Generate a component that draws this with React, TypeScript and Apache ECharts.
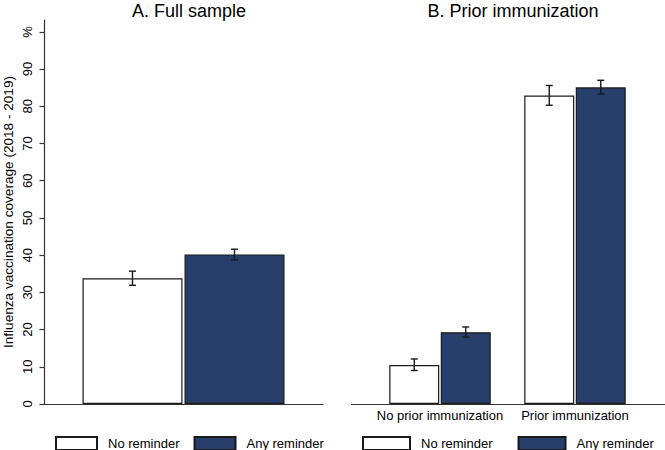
import React, { useEffect, useRef } from "react";
import * as echarts from "echarts";

const panelATitle = "A. Full sample";
const panelBTitle = "B. Prior immunization";
const yAxisName = "Influenza vaccination coverage (2018 - 2019)";
const yTickValues = [0, 10, 20, 30, 40, 50, 60, 70, 80, 90, 100];
const yTopLabel = "%";
const seriesNames = ["No reminder", "Any reminder"];

const categoriesA = ["Full sample"];
const noReminderA = [33.8];
const anyReminderA = [40.2];
const noReminderALo = [31.9];
const noReminderAHi = [35.7];
const anyReminderALo = [38.7];
const anyReminderAHi = [41.6];

const categoriesB = ["No prior immunization", "Prior immunization"];
const noReminderB = [10.5, 82.9];
const anyReminderB = [19.3, 85.1];
const noReminderBLo = [9.0, 80.3];
const noReminderBHi = [12.1, 85.6];
const anyReminderBLo = [18.0, 83.3];
const anyReminderBHi = [20.7, 87.0];

const BLUE = "#283F6C";
const INK = "#1a1a1a";
const FONT = "'Liberation Sans', Arial, sans-serif";

export default function App() {
  const ref = useRef<HTMLDivElement>(null);

  useEffect(() => {
    if (!ref.current) return;
    const chart = echarts.init(ref.current, null, { renderer: "svg" });

    const barWA = 100;
    const gapA = 2;
    const barWB = 50;
    const gapB = 1.5;

    const errSeries = (
      name: string,
      axis: number,
      lo: number[],
      hi: number[],
      offset: number
    ) => ({
      type: "custom",
      name: name + " CI",
      xAxisIndex: axis,
      yAxisIndex: axis,
      z: 10,
      silent: true,
      data: lo.map((l, i) => [i, l, hi[i]]),
      renderItem: (params: any, api: any) => {
        const c = api.value(0);
        const p1 = api.coord([c, api.value(1)]);
        const p2 = api.coord([c, api.value(2)]);
        const x = p1[0] + offset;
        const cap = 3.5;
        const style = { stroke: INK, lineWidth: 1.4, fill: null };
        return {
          type: "group",
          children: [
            { type: "line", shape: { x1: x, y1: p1[1], x2: x, y2: p2[1] }, style },
            { type: "line", shape: { x1: x - cap, y1: p1[1], x2: x + cap, y2: p1[1] }, style },
            { type: "line", shape: { x1: x - cap, y1: p2[1], x2: x + cap, y2: p2[1] }, style },
          ],
        };
      },
    });

    const yAxisCommon = {
      type: "value",
      min: 0,
      max: 103.2,
      splitLine: { show: false },
    };

    const legendCommon = {
      data: seriesNames,
      top: 436,
      padding: 0,
      icon: "rect",
      itemHeight: 13,
      textStyle: { fontFamily: FONT, fontSize: 13, color: "#000", padding: [0, 0, 0, 6] },
    };

    const option: any = {
      animation: false,
      backgroundColor: "#ffffff",
      textStyle: { fontFamily: FONT, color: "#000" },
      title: [
        {
          text: panelATitle,
          left: 184,
          top: -3,
          textAlign: "center",
          textStyle: { fontFamily: FONT, fontSize: 18, fontWeight: "normal", color: "#000" },
        },
        {
          text: panelBTitle,
          left: 508,
          top: -3,
          textAlign: "center",
          textStyle: { fontFamily: FONT, fontSize: 18, fontWeight: "normal", color: "#000" },
        },
      ],
      legend: [
        { ...legendCommon, left: 55, itemWidth: 41, itemGap: 14 },
        { ...legendCommon, left: 362, itemWidth: 47, itemGap: 25 },
      ],
      grid: [
        { left: 43, width: 280, top: 20, height: 384 },
        { left: 372.5, width: 270, top: 20, height: 384 },
      ],
      xAxis: [
        {
          type: "category",
          gridIndex: 0,
          data: categoriesA,
          axisLine: { show: true, lineStyle: { color: "#333", width: 1.2 } },
          axisTick: { show: false },
          axisLabel: { show: false },
        },
        {
          type: "category",
          gridIndex: 1,
          data: categoriesB,
          axisLine: { show: false },
          axisTick: { show: false },
          axisLabel: { show: true, interval: 0, fontFamily: FONT, fontSize: 13, color: "#000", margin: 5 },
        },
      ],
      yAxis: [
        {
          ...yAxisCommon,
          gridIndex: 0,
          name: yAxisName,
          nameLocation: "middle",
          nameGap: 29,
          nameTextStyle: { fontFamily: FONT, fontSize: 13.6, color: "#000" },
          axisLine: { show: true, lineStyle: { color: "#333", width: 1.2 } },
          axisTick: {
            show: true,
            length: 4.5,
            customValues: yTickValues,
            lineStyle: { color: "#333", width: 1.2 },
          },
          axisLabel: {
            show: true,
            rotate: 90,
            margin: 10,
            fontFamily: FONT,
            fontSize: 13,
            color: "#000",
            customValues: yTickValues,
            formatter: (v: number) => (v === 100 ? yTopLabel : String(v)),
          },
        },
        {
          ...yAxisCommon,
          gridIndex: 1,
          axisLine: { show: false },
          axisTick: { show: false },
          axisLabel: { show: false },
        },
      ],
      graphic: [
        {
          type: "line",
          shape: { x1: 351, y1: 404.5, x2: 665, y2: 404.5 },
          style: { stroke: "#333", lineWidth: 1.2 },
        },
      ],
      series: [
        {
          type: "bar",
          name: seriesNames[0],
          xAxisIndex: 0,
          yAxisIndex: 0,
          data: noReminderA,
          barWidth: barWA,
          barGap: (gapA / barWA) * 100 + "%",
          itemStyle: { color: "#ffffff", borderColor: INK, borderWidth: 1.2 },
        },
        {
          type: "bar",
          name: seriesNames[1],
          xAxisIndex: 0,
          yAxisIndex: 0,
          data: anyReminderA,
          barWidth: barWA,
          barGap: (gapA / barWA) * 100 + "%",
          itemStyle: { color: BLUE, borderColor: INK, borderWidth: 1.2 },
        },
        {
          type: "bar",
          name: seriesNames[0],
          xAxisIndex: 1,
          yAxisIndex: 1,
          data: noReminderB,
          barWidth: barWB,
          barGap: (gapB / barWB) * 100 + "%",
          itemStyle: { color: "#ffffff", borderColor: INK, borderWidth: 1.2 },
        },
        {
          type: "bar",
          name: seriesNames[1],
          xAxisIndex: 1,
          yAxisIndex: 1,
          data: anyReminderB,
          barWidth: barWB,
          barGap: (gapB / barWB) * 100 + "%",
          itemStyle: { color: BLUE, borderColor: INK, borderWidth: 1.2 },
        },
        errSeries(seriesNames[0], 0, noReminderALo, noReminderAHi, -(barWA + gapA) / 2),
        errSeries(seriesNames[1], 0, anyReminderALo, anyReminderAHi, (barWA + gapA) / 2),
        errSeries(seriesNames[0], 1, noReminderBLo, noReminderBHi, -(barWB + gapB) / 2),
        errSeries(seriesNames[1], 1, anyReminderBLo, anyReminderBHi, (barWB + gapB) / 2),
      ],
    };

    chart.setOption(option);
    return () => chart.dispose();
  }, []);

  return (
    <div
      ref={ref}
      style={{ position: "fixed", left: 0, top: 0, width: 665, height: 450, background: "#fff" }}
    />
  );
}
